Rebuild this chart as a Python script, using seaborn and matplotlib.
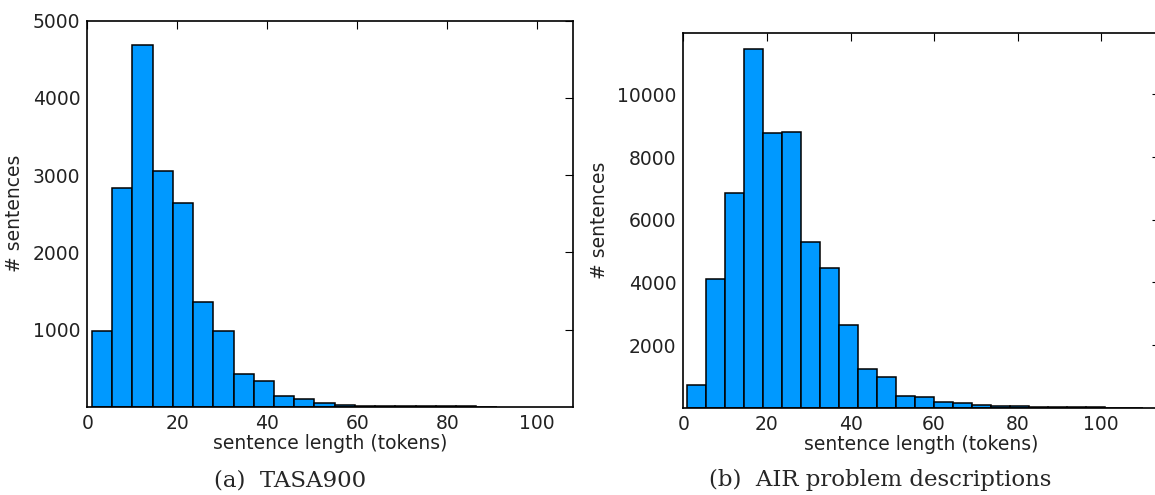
import numpy as np
import pandas as pd
import matplotlib
matplotlib.use("Agg")
import matplotlib.pyplot as plt
import seaborn as sns

# sentence length histograms, counts
tasa_counts = [980, 2830, 4690, 3050, 2640, 1350, 980, 430, 330, 140,
               105, 45, 28, 15, 10, 8, 3, 12, 8, 2]
air_counts = [710, 4110, 6840, 11440, 8760, 8800, 5280, 4460, 2640, 1250,
              990, 385, 350, 170, 140, 75, 65, 60, 30, 12, 9, 7, 5, 4]
tasa_start, tasa_width = 1.0, 4.5
air_start, air_width = 1.0, 4.54

tasa_yticks = [1000, 2000, 3000, 4000, 5000]
air_yticks = [2000, 4000, 6000, 8000, 10000]
xticks = [0, 20, 40, 60, 80, 100]

bar_color = "#0099ff"
text_color = "#222222"
fs = 13.5

sns.set_style("white")
plt.rcParams['font.family'] = ['DejaVu Sans']

fig = plt.figure(figsize=(11.55, 4.95), dpi=100)
W, H = 1155, 495


def make_ax(left, right, top, bottom):
    return fig.add_axes([left / W, 1 - bottom / H, (right - left) / W, (bottom - top) / H])


def draw(ax, counts, start, width, xlim, ylim, yticks):
    edges = [start + width * i for i in range(len(counts) + 1)]
    mids = [(a + b) / 2 for a, b in zip(edges[:-1], edges[1:])]
    df = pd.DataFrame({"length": mids, "n": counts})
    sns.histplot(data=df, x="length", weights="n", bins=edges, ax=ax,
                 color=bar_color, alpha=1, edgecolor="black", linewidth=1.1)
    ax.set_xlim(*xlim)
    ax.set_ylim(*ylim)
    ax.set_xticks(xticks)
    ax.set_yticks(yticks)
    ax.tick_params(direction="in", top=True, right=True, length=6, width=0.8,
                   labelsize=fs, color="black", labelcolor=text_color, pad=5)
    for s in ax.spines.values():
        s.set_color("black")
        s.set_linewidth(1.2)
    ax.set_xlabel("sentence length (tokens)", fontsize=fs, labelpad=1, color=text_color)
    ax.set_ylabel("# sentences", fontsize=fs, labelpad=6, color=text_color)


ax1 = make_ax(87.3, 572.7, 20.7, 406.7)
draw(ax1, tasa_counts, tasa_start, tasa_width, (0, 107.9), (0, 5000), tasa_yticks)

ax2 = make_ax(683.3, 1160, 33.3, 407.7)
draw(ax2, air_counts, air_start, air_width, (0, (1160 - 683.3) / 4.18), (0, 11950), air_yticks)

fig.text(290 / W, 1 - 480 / H, "(a)  TASA900", ha="center", va="center",
         fontsize=16.5, family="DejaVu Serif")
fig.text(880 / W, 1 - 480 / H, "(b)  AIR problem descriptions", ha="center", va="center",
         fontsize=16.5, family="DejaVu Serif")

fig.savefig("out.png", dpi=100)
